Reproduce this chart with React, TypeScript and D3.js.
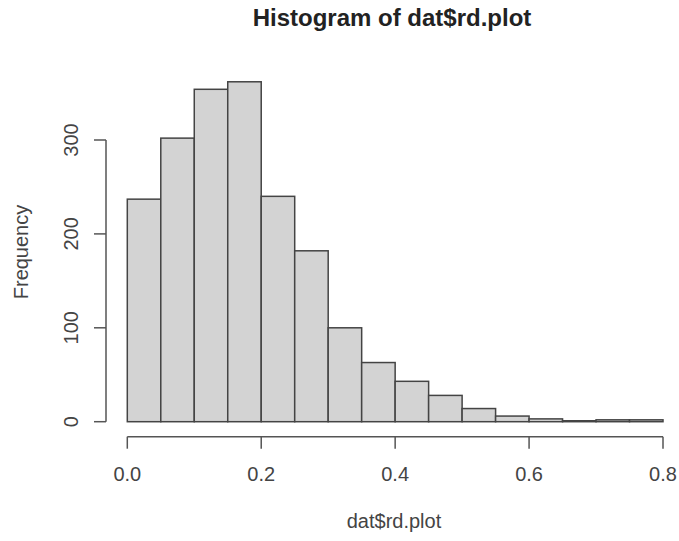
import * as d3 from "d3";

// histogram of dat$rd.plot, bins of width 0.05 from 0 to 0.8
const binStarts = [0, 0.05, 0.1, 0.15, 0.2, 0.25, 0.3, 0.35, 0.4, 0.45, 0.5, 0.55, 0.6, 0.65, 0.7, 0.75];
const counts = [237, 302, 354, 362, 240, 182, 100, 63, 43, 28, 14, 6, 3, 1, 2, 2];
const binWidth = 0.05;
const xTicks = [0, 0.2, 0.4, 0.6, 0.8];
const yTicks = [0, 100, 200, 300];

const W = 679;
const H = 541;

const App = () => {
  const x = d3.scaleLinear().domain([0, 0.8]).range([127.3, 663]);
  const y = d3.scaleLinear().domain([0, 300]).range([421.7, 140]);
  const axisX = 106;
  const axisY = 436.7;
  const font = "Liberation Sans, Arial, sans-serif";

  return (
    <div style={{ position: "absolute", left: 0, top: 0 }}>
      <svg width={W} height={H} style={{ display: "block", background: "#fff" }} fontFamily={font}>
        <text x={392} y={26} textAnchor="middle" fontSize={24} fontWeight="bold" fill="#222">
          Histogram of dat$rd.plot
        </text>

        {binStarts.map((b, i) => (
          <rect
            key={i}
            x={x(b)}
            y={y(counts[i])}
            width={x(b + binWidth) - x(b)}
            height={y(0) - y(counts[i])}
            fill="#d3d3d3"
            stroke="#444"
            strokeWidth={1.5}
          />
        ))}

        {/* x axis */}
        <line x1={x(0)} x2={x(0.8)} y1={axisY} y2={axisY} stroke="#555" strokeWidth={1.5} />
        {xTicks.map((t) => (
          <g key={t}>
            <line x1={x(t)} x2={x(t)} y1={axisY} y2={axisY + 12} stroke="#555" strokeWidth={1.5} />
            <text x={x(t)} y={481} textAnchor="middle" fontSize={20} fill="#444">
              {d3.format(".1f")(t)}
            </text>
          </g>
        ))}
        <text x={394} y={528} textAnchor="middle" fontSize={20} fill="#444">
          dat$rd.plot
        </text>

        {/* y axis */}
        <line x1={axisX} x2={axisX} y1={y(0)} y2={y(300)} stroke="#555" strokeWidth={1.5} />
        {yTicks.map((t) => (
          <g key={t}>
            <line x1={axisX - 12} x2={axisX} y1={y(t)} y2={y(t)} stroke="#555" strokeWidth={1.5} />
            <text
              transform={`translate(78,${y(t)}) rotate(-90)`}
              textAnchor="middle"
              fontSize={20}
              fill="#444"
            >
              {t}
            </text>
          </g>
        ))}
        <text
          transform="translate(28,252) rotate(-90)"
          textAnchor="middle"
          fontSize={20}
          fill="#444"
        >
          Frequency
        </text>
      </svg>
    </div>
  );
};

export default App;
